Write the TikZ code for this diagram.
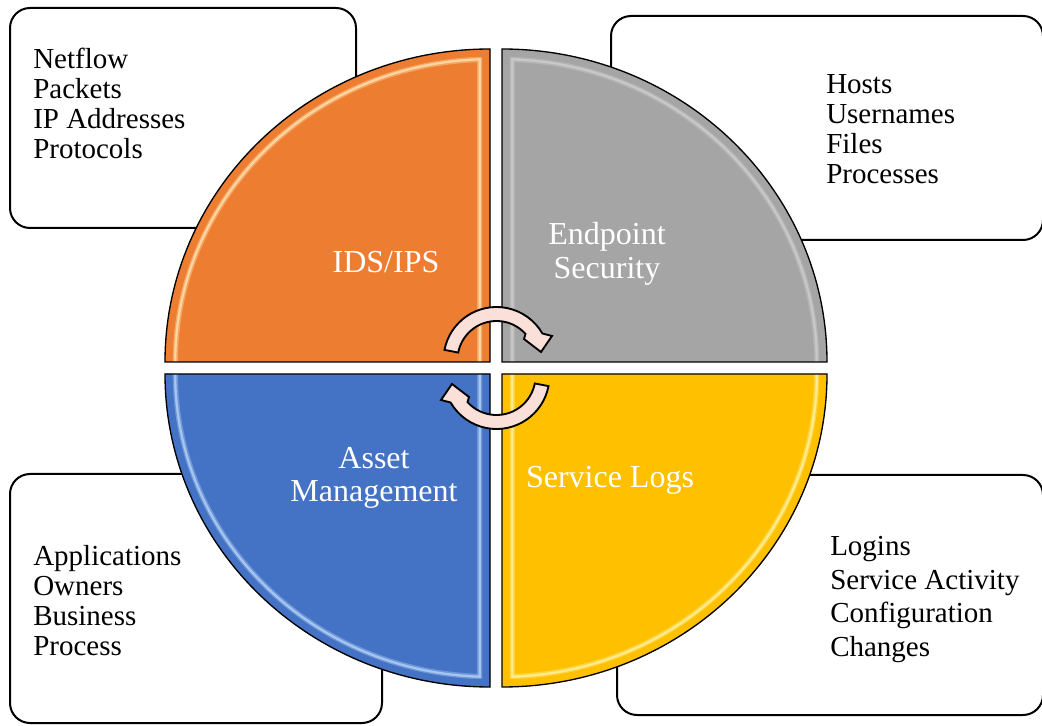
\documentclass[tikz,border=0pt]{standalone}
\usepackage{fontspec}
\setmainfont{Liberation Serif}
\usetikzlibrary{calc}

\definecolor{segorange}{RGB}{237,125,49}
\definecolor{segorangehi}{RGB}{255,214,160}
\definecolor{seggray}{RGB}{165,165,165}
\definecolor{seggrayhi}{RGB}{200,200,200}
\definecolor{segblue}{RGB}{68,114,196}
\definecolor{segbluehi}{RGB}{165,198,240}
\definecolor{seggold}{RGB}{255,192,0}
\definecolor{seggoldhi}{RGB}{255,236,140}
\definecolor{arrowpink}{RGB}{250,224,216}

% One quarter of the wheel: #1,#2 inner corner, #3 vertical reach,
% #4/#5 arc angles, #6 base colour (a matching "<colour>hi" gives the bevel stripe)
\newcommand\wheelquarter[6]{%
  \begin{scope}
    \clip (#1,#2) -- ++(0,#3) arc[start angle=#4,end angle=#5,x radius=325,y radius=313] -- cycle;
    \fill[#6] (#1,#2) -- ++(0,#3) arc[start angle=#4,end angle=#5,x radius=325,y radius=313] -- cycle;
    \draw[#6hi, line width=19.5pt, opacity=.45] (#1,#2) -- ++(0,#3) arc[start angle=#4,end angle=#5,x radius=325,y radius=313];
    \draw[#6hi, line width=17pt] (#1,#2) -- ++(0,#3) arc[start angle=#4,end angle=#5,x radius=325,y radius=313];
    \draw[#6, line width=13.5pt, opacity=.55] (#1,#2) -- ++(0,#3) arc[start angle=#4,end angle=#5,x radius=325,y radius=313];
    \draw[#6, line width=11.5pt] (#1,#2) -- ++(0,#3) arc[start angle=#4,end angle=#5,x radius=325,y radius=313];
  \end{scope}
  \draw[segedge] (#1,#2) -- ++(0,#3) arc[start angle=#4,end angle=#5,x radius=325,y radius=313] -- cycle;
}

% Curved block arrow around the wheel hub (drawn in hub-relative coordinates)
\newcommand\hubarrow{%
  \draw[cyclearrow] (169:53) arc[start angle=169,end angle=30,radius=53]
    -- (55.5,24) -- (44.5,8) -- (27.5,21) -- (42:39)
    arc[start angle=42,end angle=169,radius=39] -- cycle;
}

\begin{document}
\begin{tikzpicture}[x=0.75pt,y=0.75pt,
  infobox/.style={draw=black, line width=1.5pt, fill=white, rounded corners=15pt},
  listtext/.style={anchor=west, align=left, inner sep=0pt},
  seglabel/.style={align=center, inner sep=0pt, text=white, font=\fontsize{24}{25.5}\selectfont},
  segedge/.style={draw=black, line width=1pt},
  cyclearrow/.style={draw=black, line width=1.4pt, fill=arrowpink, line join=miter}
]
\useasboundingbox (0,0) rectangle (1042,725);
\fill[white] (0,0) rectangle (1042,725);

% information boxes behind the wheel
\draw[infobox] (10,497) rectangle (356,717);
\draw[infobox] (611,485) rectangle (1043,709);
\draw[infobox] (10,2) rectangle (382,251);
\draw[infobox] (617,10) rectangle (1043,250);

% the four quarters of the wheel
\wheelquarter{490}{363}{313}{90}{180}{segorange}
\wheelquarter{502}{363}{313}{90}{0}{seggray}
\wheelquarter{490}{351}{-313}{270}{180}{segblue}
\wheelquarter{502}{351}{-313}{270}{360}{seggold}

% cycle arrows at the hub
\begin{scope}[shift={(496.5,365)}]
  \hubarrow
\end{scope}
\begin{scope}[shift={(496.5,349)}, rotate=180]
  \hubarrow
\end{scope}

% quarter labels
\node[seglabel] (ids) at (386,463) {IDS/IPS};
\node[seglabel] (endpoint) at (607,471) {Endpoint\\Security};
\node[seglabel, font=\fontsize{24}{24.75}\selectfont] (asset) at (374,247.5) {Asset\\Management};
\node[seglabel] (logs) at (610,245) {Service Logs};

% box contents
\node[listtext, font=\fontsize{21.75}{22.7}\selectfont] (netlist) at (33,621.5)
  {Netflow\\Packets\\IP Addresses\\Protocols};
\node[listtext, font=\fontsize{21.75}{22.5}\selectfont] (hostlist) at (826,596)
  {Hosts\\Usernames\\Files\\Processes};
\node[listtext, font=\fontsize{21.75}{22.7}\selectfont] (applist) at (33,124.5)
  {Applications\\Owners\\Business\\Process};
\node[listtext, font=\fontsize{21.75}{25.4}\selectfont] (loglist) at (830,125.5)
  {Logins\\Service Activity\\Configuration\\Changes};
\end{tikzpicture}
\end{document}
